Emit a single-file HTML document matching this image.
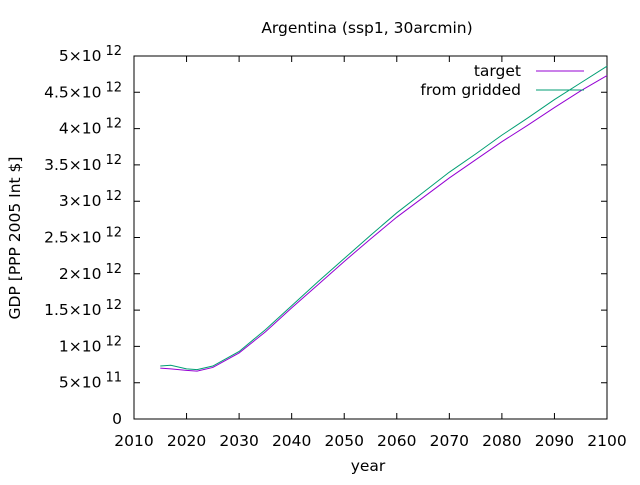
<!DOCTYPE html>
<html><head><meta charset="utf-8"><style>
body{margin:0;background:#fff}
text{font-family:"DejaVu Sans","Liberation Sans",sans-serif;font-size:15.5px;fill:#000}
</style></head><body>
<svg width="640" height="480">
<rect width="640" height="480" fill="#fff"/>
<text x="367" y="33" text-anchor="middle">Argentina (ssp1, 30arcmin)</text>
<text x="368" y="471" text-anchor="middle">year</text>
<text transform="translate(20,238) rotate(-90)" text-anchor="middle">GDP [PPP 2005 Int $]</text>
<g id="axes"></g>
<g id="series"></g>
<g>
<text x="521" y="76" text-anchor="end">target</text>
<line x1="536" y1="71" x2="584" y2="71" stroke="#9400d3"/>
<text x="521" y="95" text-anchor="end">from gridded</text>
<line x1="536" y1="90" x2="584" y2="90" stroke="#009e73"/>
</g>
</svg>
<script>
const years=[2015,2017,2020,2022,2025,2030,2035,2040,2045,2050,2055,2060,2065,2070,2075,2080,2085,2090,2095,2100];
const target=[0.70,0.69,0.67,0.66,0.71,0.91,1.20,1.53,1.85,2.17,2.48,2.78,3.05,3.32,3.57,3.82,4.05,4.29,4.52,4.73];
const gridded=[0.73,0.74,0.69,0.68,0.73,0.93,1.23,1.56,1.89,2.21,2.53,2.84,3.12,3.40,3.65,3.91,4.15,4.40,4.63,4.86];
const xTicks=[2010,2020,2030,2040,2050,2060,2070,2080,2090,2100];
const yTicks=[0,0.5,1,1.5,2,2.5,3,3.5,4,4.5,5];
const yLabels=["0","5×10|11","1×10|12","1.5×10|12","2×10|12","2.5×10|12","3×10|12","3.5×10|12","4×10|12","4.5×10|12","5×10|12"];
const L=134,R=607,T=56,B=419;
const X=v=>L+(v-2010)/90*(R-L);
const Y=v=>B-v/5*(B-T);
const NS="http://www.w3.org/2000/svg";
const ax=document.getElementById('axes');
function mk(tag,attrs,parent){const e=document.createElementNS(NS,tag);for(const k in attrs)e.setAttribute(k,attrs[k]);parent.appendChild(e);return e;}
const frame=mk('rect',{x:L,y:T,width:R-L,height:B-T,fill:'none',stroke:'#000'},ax);


xTicks.forEach(t=>{
 const x=X(t);
 const tk=mk('path',{d:`M${x},${B}v-6M${x},${T}v6`,stroke:'#000'},ax);
 
 
 const tx=mk('text',{x:x,y:B+27,'text-anchor':'middle'},ax);
 tx.textContent=t;
 
 
});
yTicks.forEach((t,i)=>{
 const y=Y(t);
 const tk=mk('path',{d:`M${L},${y}h6M${R},${y}h-6`,stroke:'#000'},ax);
 
 
 const parts=yLabels[i].split('|');
 const tx=mk('text',{x:122,y:y+5,'text-anchor':'end'},ax);
 tx.textContent=parts[0];
 if(parts[1]){
  const sp=document.createElementNS(NS,'tspan');
  sp.setAttribute('dy','-6');sp.setAttribute('dx','4');sp.setAttribute('font-size','13');
  sp.textContent=parts[1];tx.appendChild(sp);
 }
 
 
});
const sg=document.getElementById('series');
[[target,'#9400d3','line-target'],[gridded,'#009e73','line-from-gridded']].forEach(([d,c,n])=>{
 const p=mk('polyline',{points:years.map((yr,i)=>X(yr)+','+Y(d[i])).join(' '),fill:'none',stroke:c,'stroke-width':1},sg);
 
 
});
</script>
</body></html>
